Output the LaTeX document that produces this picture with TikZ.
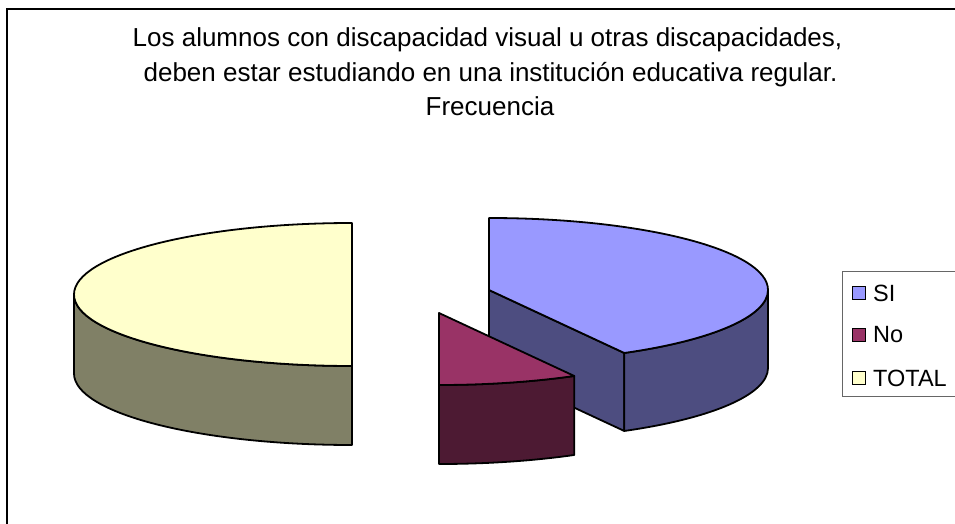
\documentclass[tikz,border=0pt]{standalone}
\usepackage{fontspec}
\setmainfont{Liberation Sans}
\usepackage{tikz}
\usetikzlibrary{calc}

\definecolor{siTop}{HTML}{9999FF}
\definecolor{siSide}{HTML}{4D4D80}
\definecolor{noTop}{HTML}{993366}
\definecolor{noSide}{HTML}{4D1A33}
\definecolor{totalTop}{HTML}{FFFFCC}
\definecolor{totalSide}{HTML}{808066}

\begin{document}
\begin{tikzpicture}[x=1pt,y=-1pt,
  cara/.style={draw=black,line width=1.8pt,line join=round},
  clave/.style={draw=black,line width=0.9pt,minimum size=13pt,inner sep=0pt},
  rotulo/.style={anchor=west,inner sep=0pt,font=\fontsize{23.5}{23.5}\selectfont}]
\useasboundingbox (0,0) rectangle (955,524);
\clip (0,0) rectangle (955,524);
\draw[line width=2pt] (7,9) rectangle (975,545);

\node (tituloA) [anchor=base,inner sep=0pt,font=\fontsize{26}{30}\selectfont] at (487.5,47) {Los alumnos con discapacidad visual u otras discapacidades,};
\node (tituloB) [anchor=base,inner sep=0pt,font=\fontsize{26}{30}\selectfont] at (490.5,82) {deben estar estudiando en una instituci\'on educativa regular.};
\node (tituloC) [anchor=base,inner sep=0pt,font=\fontsize{26}{30}\selectfont] at (490,116) {Frecuencia};

\coordinate (totC) at (352,294.5);
\coordinate (siC) at (489,290);
\coordinate (noC) at (439,313);

\filldraw[cara,fill=totalSide] ($(totC)+(-278,0)$) arc[start angle=180,end angle=90,x radius=278,y radius=71.5]
  -- ++(0,79) arc[start angle=90,end angle=180,x radius=278,y radius=71.5] -- cycle;
\filldraw[cara,fill=totalTop] (totC) -- ++(0,-71.5) arc[start angle=270,end angle=90,x radius=278,y radius=71.5] -- cycle;

\filldraw[cara,fill=siSide] (siC) -- ($(siC)+(61:279 and 72)$) -- ++(0,78) -- ($(siC)+(0,78)$) -- cycle;
\filldraw[cara,fill=siSide] ($(siC)+(279,0)$) arc[start angle=0,end angle=61,x radius=279,y radius=72]
  -- ++(0,78) arc[start angle=61,end angle=0,x radius=279,y radius=72] -- cycle;
\filldraw[cara,fill=siTop] (siC) -- ++(0,-72) arc[start angle=-90,end angle=61,x radius=279,y radius=72] -- cycle;

\filldraw[cara,fill=noSide] ($(noC)+(61:279 and 72)$) arc[start angle=61,end angle=90,x radius=279,y radius=72]
  -- ++(0,79) arc[start angle=90,end angle=61,x radius=279,y radius=72] -- cycle;
\filldraw[cara,fill=noTop] (noC) -- ($(noC)+(61:279 and 72)$) arc[start angle=61,end angle=90,x radius=279,y radius=72] -- cycle;

\draw[draw=black!60,line width=1pt] (842,271) rectangle (980,396);
\node (claveSI) [clave,fill=siTop] at (858.5,293) {};
\node (claveNo) [clave,fill=noTop] at (858.5,335) {};
\node (claveTotal) [clave,fill=totalTop] at (858.5,378) {};
\node (textoSI) [rotulo] at (873,293) {SI};
\node (textoNo) [rotulo] at (873,335) {No};
\node (textoTotal) [rotulo] at (873,378) {TOTAL};
\end{tikzpicture}
\end{document}
